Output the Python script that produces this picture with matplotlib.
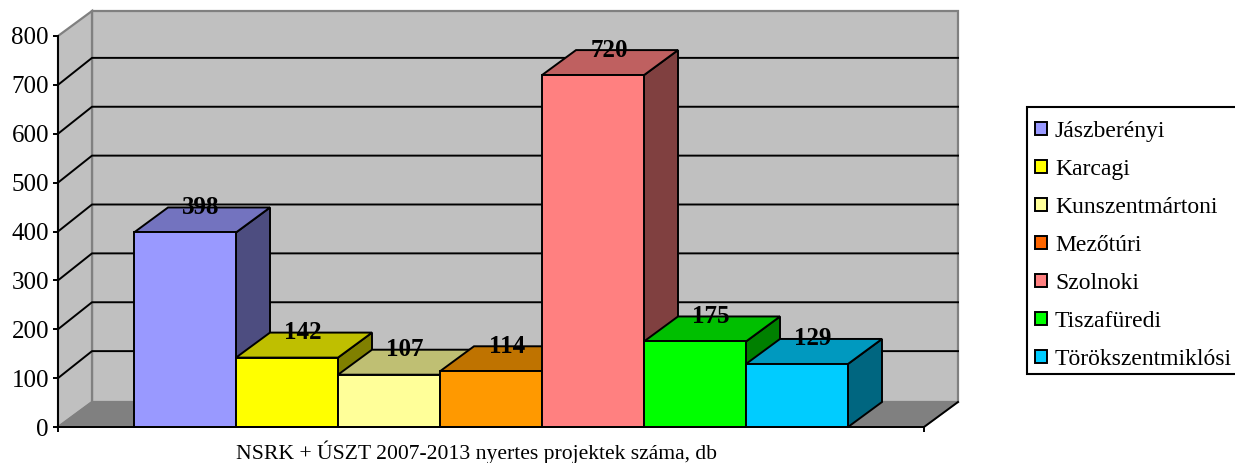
import matplotlib.pyplot as plt
from matplotlib.colors import to_rgb
from matplotlib.patches import Patch, Rectangle

plt.rcParams['font.family'] = ['Liberation Serif', 'DejaVu Serif']

# Adatok
telepulesek = ['Jászberényi', 'Karcagi', 'Kunszentmártoni', 'Mezőtúri',
               'Szolnoki', 'Tiszafüredi', 'Törökszentmiklósi']
ertekek = [398, 142, 107, 114, 720, 175, 129]
szinek = ['#9999FF', '#FFFF00', '#FFFF99', '#FF9900', '#FF8080', '#00FF00', '#00CCFF']
jelmagyarazat_szinek = ['#9999FF', '#FFFF00', '#FFFF99', '#FF6600', '#FF8080', '#00FF00', '#00CCFF']
y_osztasok = [0, 100, 200, 300, 400, 500, 600, 700, 800]
cim = 'NSRK + ÚSZT 2007-2013 nyertes projektek száma, db'

W, H = 1235, 463
fig = plt.figure(figsize=(W / 100, H / 100), dpi=100)
ax = fig.add_axes([58 / W, (H - 427) / H, 866 / W, 391 / H])

# x egyseg = egy oszlop szelessege (102 px), terbeli eltolas 34 px / 25 px
xmin, xmax = -76 / 102, 7 + 76 / 102
ax.set_xlim(xmin, xmax)
ax.set_ylim(0, 800)
dx = 34 / 102
dy = 25 / (391 / 800)
racs_dy = 27 / (391 / 800)
vonal = 1.4


def arnyalat(szin, k):
    return tuple(c * k for c in to_rgb(szin))


# Falak es padlo
ax.fill([xmin + dx, xmax + dx, xmax + dx, xmin + dx], [dy, dy, 800 + dy, 800 + dy],
        fc='#C0C0C0', ec='#808080', lw=1.6, clip_on=False, zorder=1)
ax.fill([xmin, xmin + dx, xmin + dx, xmin], [0, dy, 800 + dy, 800],
        fc='#C0C0C0', ec='#808080', lw=1.6, clip_on=False, zorder=1)
ax.fill([xmin, xmax, xmax + dx, xmin + dx], [0, 0, dy, dy],
        fc='#808080', ec='#808080', lw=1, clip_on=False, zorder=1)
ax.plot([xmax, xmax + dx], [0, dy], color='black', lw=vonal, clip_on=False, zorder=2)

# Racsvonalak
for v in y_osztasok[1:-1]:
    ax.plot([xmin, xmin + dx, xmax + dx], [v, v + racs_dy, v + racs_dy], color='black',
            lw=vonal, clip_on=False, zorder=2)

# Oszlopok
for i, (ertek, szin) in enumerate(zip(ertekek, szinek)):
    z = 3 + i
    ax.fill([i + 1, i + 1 + dx, i + 1 + dx, i + 1], [0, dy, ertek + dy, ertek],
            fc=arnyalat(szin, 0.5), ec='black', lw=vonal, clip_on=False, zorder=z)
    ax.fill([i, i + 1, i + 1 + dx, i + dx], [ertek, ertek, ertek + dy, ertek + dy],
            fc=arnyalat(szin, 0.75), ec='black', lw=vonal, clip_on=False, zorder=z)
    ax.fill([i, i + 1, i + 1, i], [0, 0, ertek, ertek],
            fc=szin, ec='black', lw=vonal, clip_on=False, zorder=z)

for i, ertek in enumerate(ertekek):
    ax.text(i + 0.49 + dx / 2, ertek + dy, str(ertek), ha='center', va='center',
            fontsize=18, fontweight='bold', zorder=20)

# Tengelyek
ax.patch.set_visible(False)
for oldal in ['top', 'right']:
    ax.spines[oldal].set_visible(False)
for oldal in ['left', 'bottom']:
    ax.spines[oldal].set_linewidth(vonal)
    ax.spines[oldal].set_zorder(15)
ax.set_yticks(y_osztasok)
ax.set_xticks([xmin, xmax])
ax.set_xticklabels([])
ax.tick_params(axis='both', length=3.5, width=vonal, pad=3, labelsize=18)
ax.set_xlabel(cim, fontsize=15.6)
ax.xaxis.set_label_coords(0.4827, -0.065, transform=ax.transAxes)
ax.xaxis.label.set_va('center')

# Jelmagyarazat keret kulon, mert a felso es also res nem egyforma
fig.add_artist(Rectangle((1027 / W, (H - 374) / H), 213 / W, 267 / H, transform=fig.transFigure,
                         fc='white', ec='black', lw=1.5))
kezelok = [Patch(fc=s, ec='black', lw=vonal) for s in jelmagyarazat_szinek]
leg = fig.legend(kezelok, telepulesek, loc='upper left',
                 bbox_to_anchor=(1025 / W, (H - 111) / H), bbox_transform=fig.transFigure,
                 fontsize=17, frameon=False,
                 borderaxespad=0, borderpad=0.42, labelspacing=0.72,
                 handlelength=0.51, handleheight=0.51, handletextpad=0.34)

fig.savefig('out.png', dpi=100)
